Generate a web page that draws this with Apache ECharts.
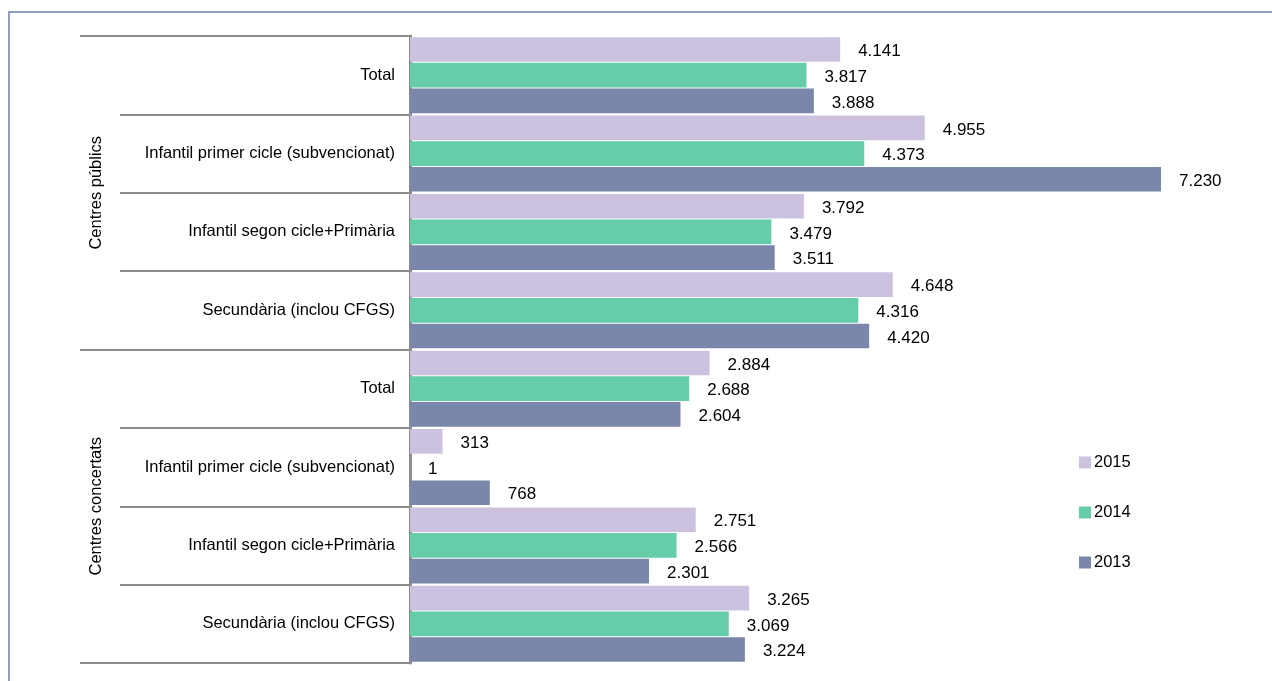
<!DOCTYPE html>
<html>
<head>
<meta charset="utf-8">
<script src="https://cdn.jsdelivr.net/npm/echarts@6/dist/echarts.min.js"></script>
<style>
html,body{margin:0;padding:0;background:#fff;}
#chart{width:1272px;height:681px;}
</style>
</head>
<body>
<div id="chart"></div>
<script>
const groups = ['Centres públics', 'Centres concertats'];
const categories = [
  'Total', 'Infantil primer cicle (subvencionat)', 'Infantil segon cicle+Primària', 'Secundària (inclou CFGS)',
  'Total ', 'Infantil primer cicle (subvencionat) ', 'Infantil segon cicle+Primària ', 'Secundària (inclou CFGS) '
];
const seriesNames = ['2015', '2014', '2013'];
const values2015 = [4141, 4955, 3792, 4648, 2884, 313, 2751, 3265];
const values2014 = [3817, 4373, 3479, 4316, 2688, 1, 2566, 3069];
const values2013 = [3888, 7230, 3511, 4420, 2604, 768, 2301, 3224];
const colors = ['#ccc2df', '#66cdaa', '#7b87aa'];

const FONT = 'Liberation Sans';
function fmt(v) {
  return String(v).replace(/\B(?=(\d{3})+(?!\d))/g, '.');
}
const chart = echarts.init(document.getElementById('chart'));
const allValues = [values2015, values2014, values2013];
chart.setOption({
  animation: false,
  textStyle: { fontFamily: FONT },
  graphic: [{
    type: 'rect', shape: { x: 9, y: 12, width: 1300, height: 720 },
    style: { fill: 'none', stroke: '#8d9cc4', lineWidth: 2 }, silent: true, z: -10
  }],
  grid: { left: 410, top: 36, width: 831, height: 627 },
  legend: {
    orient: 'vertical', left: 1079, top: 454, padding: 0,
    itemWidth: 12, itemHeight: 12, itemGap: 33,
    icon: 'rect',
    textStyle: { fontFamily: FONT, fontSize: 16.5, color: '#000', padding: [0, 0, 0, -2] },
    data: seriesNames
  },
  xAxis: {
    type: 'value', min: 0, max: 8000, show: false
  },
  yAxis: [{
    type: 'category', data: categories, inverse: true,
    axisLine: { show: true, lineStyle: { color: '#8c8c8c', width: 3 } },
    axisTick: { show: true, length: 290, lineStyle: { color: '#8c8c8c', width: 2 } },
    axisLabel: { fontSize: 16.5, color: '#000', margin: 15, fontFamily: FONT,
      formatter: v => v.trim() }
  }, {
    type: 'category', data: groups, inverse: true, position: 'left',
    axisLine: { show: false },
    axisTick: { show: true, length: 330, lineStyle: { color: '#8c8c8c', width: 2 } },
    axisLabel: { fontSize: 16.5, color: '#000', rotate: 90, margin: 305, fontFamily: FONT }
  }],
  series: seriesNames.map((n, i) => ({
    name: n, type: 'bar', data: allValues[i], yAxisIndex: 0,
    itemStyle: { color: colors[i] },
    barCategoryGap: '3%', barGap: '4%',
    label: {
      show: true, position: 'right', distance: 18, offset: [0, 2],
      fontSize: 17, color: '#000', fontFamily: FONT,
      formatter: p => fmt(p.value)
    }
  }))
});
</script>
</body>
</html>
